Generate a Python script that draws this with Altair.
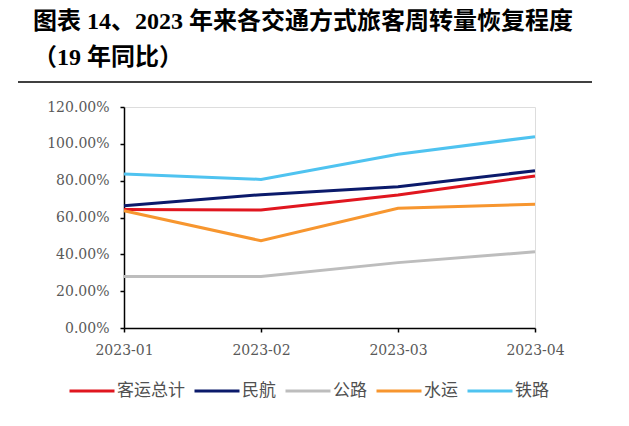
import altair as alt
import pandas as pd

months = ["2023-01", "2023-02", "2023-03", "2023-04"]
series = ["客运总计", "民航", "公路", "水运", "铁路"]
total = [0.644, 0.641, 0.722, 0.825]
air = [0.664, 0.724, 0.767, 0.854]
road = [0.279, 0.279, 0.355, 0.414]
water = [0.637, 0.474, 0.650, 0.672]
rail = [0.836, 0.807, 0.943, 1.039]
colors = ["#E0161F", "#0B1A6B", "#BDBDBD", "#F7962F", "#4FC3F0"]
y_ticks = [0, 0.2, 0.4, 0.6, 0.8, 1.0, 1.2]

rows = []
for name, vals in zip(series, [total, air, road, water, rail]):
    for m, v in zip(months, vals):
        rows.append({"month": m, "series": name, "value": v})
df = pd.DataFrame(rows)

label_font = "DejaVu Serif"

lines = alt.Chart(df).mark_line(strokeWidth=3).encode(
    x=alt.X("month:N", sort=months,
            scale=alt.Scale(type="point", padding=0),
            axis=alt.Axis(title=None, labelAngle=0, labelFont=label_font,
                          labelFontSize=14, labelColor="#595959",
                          domainColor="black", domainWidth=1.5,
                          tickColor="black", tickSize=4, tickWidth=1.5,
                          labelPadding=11)),
    y=alt.Y("value:Q", scale=alt.Scale(domain=[0, 1.2]),
            axis=alt.Axis(title=None, format=".2%", values=y_ticks, grid=False,
                          labelFont=label_font, labelFontSize=14,
                          labelColor="#595959", domainColor="black",
                          domainWidth=1.5, tickColor="black", tickSize=4,
                          tickWidth=1.5, labelPadding=11)),
    color=alt.Color("series:N", sort=series,
                    scale=alt.Scale(domain=series, range=colors),
                    legend=alt.Legend(title=None, orient="none", direction="horizontal",
                                      legendX=-56, legendY=260, padding=0,
                                      gridAlign="none",
                                      symbolType="stroke", symbolStrokeWidth=3,
                                      symbolSize=2025, labelFont="Noto Sans CJK SC",
                                      labelFontSize=17, labelColor="#505050",
                                      labelOffset=1, columnPadding=3,
                                      labelLimit=200)),
)

rule = alt.Chart(pd.DataFrame({"a": [0]})).mark_rule(color="black", strokeWidth=1.5).encode(
    x=alt.value(-106), x2=alt.value(468), y=alt.value(-25)
)

chart = alt.layer(rule, lines).properties(
    width=411,
    height=221,
    title=alt.TitleParams(
        text=["图表 14、2023 年来各交通方式旅客周转量恢复程度", "（19 年同比）"],
        anchor="start", frame="group", dx=-91, offset=35, dy=48,
        font="Liberation Serif, Noto Sans CJK SC", fontSize=24, fontWeight="bold",
        color="black", lineHeight=36, baseline="bottom",
    ),
    autosize=alt.AutoSizeParams(type="none"),
    padding={"left": 116, "top": 99, "right": 86, "bottom": 90},
).configure_view(stroke=None).configure(background="white")

chart.save("out.html", embed_options={"renderer": "svg", "actions": False})
